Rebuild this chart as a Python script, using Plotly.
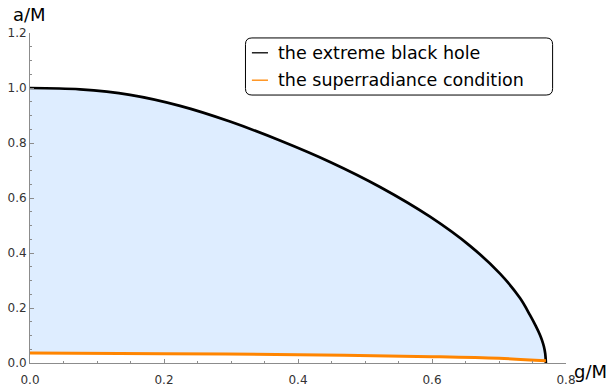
import plotly.graph_objects as go

# Extreme black hole boundary
g_ext = [0.0, 0.0746, 0.1493, 0.2239, 0.2985, 0.3731, 0.4478, 0.5224, 0.5970,
         0.6567, 0.7015, 0.7313, 0.7463, 0.755, 0.7612, 0.764, 0.767, 0.769, 0.770]
a_ext = [1.0, 0.995, 0.975, 0.935, 0.878, 0.809, 0.731, 0.640, 0.532,
         0.426, 0.325, 0.236, 0.174, 0.134, 0.102, 0.084, 0.060, 0.034, 0.0]

# Superradiance condition
g_sr = [0.0, 0.2, 0.4, 0.6, 0.7, 0.77]
a_sr = [0.036, 0.034, 0.030, 0.023, 0.017, 0.008]

series_names = ["the extreme black hole", "the superradiance condition"]
series_colors = ["black", "rgb(255,133,0)"]

x_ticks = [0.0, 0.2, 0.4, 0.6, 0.8]
y_ticks = [0.0, 0.2, 0.4, 0.6, 0.8, 1.0, 1.2]

FONT = "DejaVu Sans"
AXC = "#8c8c8c"

fig = go.Figure()
# fill region between the two curves
fig.add_trace(go.Scatter(x=g_sr, y=a_sr, mode="lines", line=dict(width=0, shape="spline"),
                         showlegend=False, hoverinfo="skip"))
fig.add_trace(go.Scatter(x=g_ext, y=a_ext, mode="lines", line=dict(width=0, shape="spline"),
                         fill="tonexty", fillcolor="rgb(222,237,255)",
                         showlegend=False, hoverinfo="skip"))
# visible curves
fig.add_trace(go.Scatter(x=g_ext, y=a_ext, mode="lines", name=series_names[0], showlegend=False,
                         line=dict(color=series_colors[0], width=2.7, shape="spline", smoothing=1.0)))
fig.add_trace(go.Scatter(x=g_sr, y=a_sr, mode="lines", name=series_names[1], showlegend=False,
                         line=dict(color=series_colors[1], width=3, shape="spline", smoothing=1.0)))

axis_common = dict(showline=True, linecolor=AXC, linewidth=1, showgrid=False,
                   zeroline=False, ticks="inside", ticklen=4, tickwidth=1, tickcolor=AXC,
                   tickformat=".1f", tickfont=dict(family=FONT, size=12, color="#333"),
                   automargin=False,
                   minor=dict(ticks="inside", ticklen=2, tickwidth=1, tickcolor=AXC,
                              dtick=0.05, showgrid=False))

fig.update_xaxes(range=[0, 0.8], tickvals=x_ticks, ticklabelstandoff=6, **axis_common)
fig.update_yaxes(range=[0, 1.2], tickvals=y_ticks, **axis_common)

annotations = [
    dict(text="a/M", xref="paper", yref="paper", x=-0.035, y=1.055,
         xanchor="left", yanchor="middle", showarrow=False,
         font=dict(family=FONT, size=18, color="black")),
    dict(text="g/M", xref="paper", yref="paper", x=1.012, y=-0.025,
         xanchor="left", yanchor="middle", showarrow=False,
         font=dict(family=FONT, size=18, color="black")),
]

# custom legend (text + short line samples)
leg_rows_y = [0.940, 0.857]
for name, col, yy in zip(series_names, series_colors, leg_rows_y):
    annotations.append(dict(text=name, xref="paper", yref="paper", x=0.459, y=yy,
                            xanchor="left", yanchor="middle", showarrow=False,
                            font=dict(family=FONT, size=17.5, color="black")))
    fig.add_shape(type="line", xref="paper", yref="paper", x0=0.414, x1=0.444,
                  y0=yy, y1=yy, line=dict(color=col, width=1.3))

fig.update_layout(
    width=611, height=389,
    margin=dict(l=30, r=45, t=33, b=26),
    plot_bgcolor="white", paper_bgcolor="white",
    font=dict(family=FONT, color="black"),
    showlegend=False,
    annotations=annotations,
)

# rounded legend frame (paper coords)
x0, x1, y0, y1, r = 0.402, 0.975, 0.812, 0.985, 0.012
ry = r * 536 / 330
path = (f"M {x0+r},{y1} L {x1-r},{y1} Q {x1},{y1} {x1},{y1-ry} "
        f"L {x1},{y0+ry} Q {x1},{y0} {x1-r},{y0} L {x0+r},{y0} "
        f"Q {x0},{y0} {x0},{y0+ry} L {x0},{y1-ry} Q {x0},{y1} {x0+r},{y1} Z")
fig.add_shape(type="path", path=path, xref="paper", yref="paper",
              line=dict(color="black", width=1), fillcolor="rgba(0,0,0,0)")

fig.write_html("out.html")
